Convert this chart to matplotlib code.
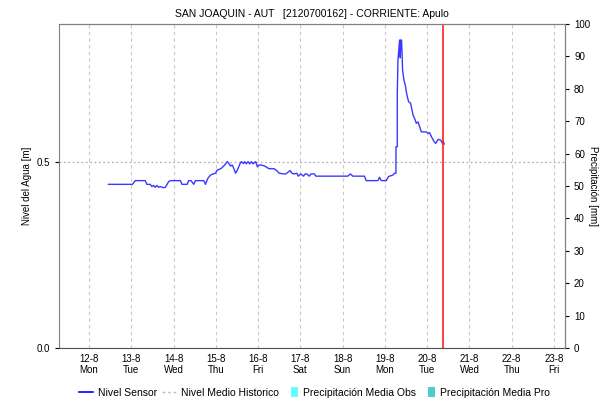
import matplotlib
matplotlib.use("Agg")
import matplotlib.pyplot as plt
import matplotlib.dates as mdates
from matplotlib.lines import Line2D
from matplotlib.patches import Patch, Rectangle
from matplotlib.legend_handler import HandlerPatch
from datetime import datetime, timedelta

plt.rcParams['font.family'] = ['Liberation Sans', 'DejaVu Sans']

# Sensor level: days after 12-8-2024 00:00, level in metres
days = [0.459, 1.029, 1.093, 1.330, 1.370, 1.449, 1.489, 1.528, 1.568, 1.607,
        1.647, 1.686, 1.766, 1.805, 1.884, 1.924, 2.162, 2.201, 2.320, 2.359,
        2.415, 2.478, 2.518, 2.716, 2.755, 2.811, 2.874, 2.937, 2.993, 3.032,
        3.112, 3.151, 3.230, 3.270, 3.310, 3.349, 3.389, 3.428, 3.468, 3.508,
        3.571, 3.603, 3.650, 3.682, 3.721, 3.761, 3.800, 3.840, 3.880, 3.919,
        3.943, 3.983, 4.022, 4.062, 4.141, 4.260, 4.378, 4.442, 4.497, 4.616,
        4.656, 4.759, 4.798, 4.854, 4.917, 4.949, 5.012, 5.075, 5.115, 5.155,
        5.210, 5.250, 5.329, 5.368, 6.121, 6.184, 6.240, 6.516, 6.556, 6.834,
        6.873, 6.912, 7.031, 7.086, 7.190, 7.228, 7.261, 7.262, 7.292, 7.293,
        7.309, 7.347, 7.363, 7.375, 7.394, 7.411, 7.418, 7.451, 7.482, 7.506,
        7.530, 7.561, 7.608, 7.641, 7.665, 7.703, 7.743, 7.784, 7.822, 7.862,
        7.981, 8.021, 8.059, 8.100, 8.164, 8.202, 8.259, 8.321, 8.361, 8.385,
        8.401]
nivel = [0.440, 0.440, 0.450, 0.450, 0.440, 0.440, 0.434, 0.437, 0.432, 0.437,
         0.432, 0.434, 0.431, 0.432, 0.447, 0.450, 0.450, 0.440, 0.440, 0.450,
         0.450, 0.440, 0.450, 0.450, 0.440, 0.456, 0.465, 0.468, 0.470, 0.478,
         0.482, 0.485, 0.495, 0.501, 0.496, 0.489, 0.492, 0.482, 0.470, 0.478,
         0.495, 0.501, 0.496, 0.501, 0.495, 0.501, 0.495, 0.501, 0.495, 0.499,
         0.501, 0.487, 0.492, 0.492, 0.490, 0.482, 0.482, 0.477, 0.470, 0.468,
         0.468, 0.477, 0.470, 0.468, 0.470, 0.462, 0.468, 0.462, 0.468, 0.468,
         0.462, 0.468, 0.468, 0.462, 0.462, 0.468, 0.462, 0.462, 0.450, 0.450,
         0.459, 0.450, 0.450, 0.461, 0.465, 0.470, 0.470, 0.541, 0.541, 0.685,
         0.774, 0.828, 0.780, 0.828, 0.828, 0.774, 0.747, 0.720, 0.707, 0.689,
         0.676, 0.662, 0.658, 0.640, 0.626, 0.617, 0.604, 0.608, 0.595, 0.581,
         0.581, 0.577, 0.579, 0.568, 0.555, 0.550, 0.561, 0.559, 0.550, 0.555,
         0.548]

base = datetime(2024, 8, 12)
times = [base + timedelta(days=d) for d in days]
now_day = 8.385
tick_days = list(range(12))
title = "SAN JOAQUIN - AUT   [2120700162] - CORRIENTE: Apulo"

fig = plt.figure(figsize=(6.1, 4.05), dpi=100)
ax = fig.add_axes([0.0967, 0.1407, 0.8295, 0.80])
ax2 = ax.twinx()

ax.plot(times, nivel, color='#3a3aff', lw=1.0, zorder=3)
ax.axvline(base + timedelta(days=now_day), color='#ff2020', lw=1.2, zorder=4)

ax.set_xlim(base - timedelta(days=0.71), base + timedelta(days=11.26))
ax.set_ylim(0, 0.871)
ax.set_yticks([0.0, 0.5])
ax.set_yticklabels(['0.0', '0.5'])
ax2.set_ylim(0, 100)
ax2.set_yticks(range(0, 101, 10))

ax.set_xticks([base + timedelta(days=d) for d in tick_days])
ax.xaxis.set_major_formatter(
    plt.FuncFormatter(lambda v, p: mdates.num2date(v).strftime('%-d-%-m\n%a')))

ax.grid(axis='x', color='#c8c8c8', ls=(0, (3, 3)), lw=0.8)
for yv in [0.0, 0.5]:
    ax.axhline(yv, color='#b0b0b0', ls=(0, (1.5, 2)), lw=0.9, zorder=1)

for a in (ax, ax2):
    for s in a.spines.values():
        s.set_color('#808080')
    a.tick_params(colors='#000000', labelsize=7, length=3, width=0.8)
ax.spines['bottom'].set_color('#505050')
ax.tick_params(axis='x', length=0, pad=4)
ax2.spines['left'].set_visible(False)
ax2.spines['bottom'].set_visible(False)

ax.set_ylabel('Nivel del Agua [m]', fontsize=7, labelpad=3)
ax2.set_ylabel('Precipitación [mm]', fontsize=7, rotation=270, labelpad=6)
ax.set_title(title, fontsize=7.5, pad=5)


def narrow_box(legend, orig_handle, xdescent, ydescent, width, height, fontsize):
    w = height * 1.0
    return Rectangle((-xdescent + width - w, -ydescent - 1), w, height + 2)


handles = [
    Line2D([], [], color='#0000ff', lw=1.2),
    Line2D([], [], color='#c0c0c0', lw=1.0, ls=(0, (2, 2))),
    Patch(facecolor='#66ffff', edgecolor='none'),
    Patch(facecolor='#4ccccc', edgecolor='none'),
]
labels = ['Nivel Sensor', 'Nivel Medio Historico',
          'Precipitación Media Obs', 'Precipitación Media Pro']
fig.legend(handles, labels, loc='center', bbox_to_anchor=(0.515, 0.03), ncol=4,
           frameon=False, fontsize=7.5, handlelength=1.4, handletextpad=0.4,
           columnspacing=0.5,
           handler_map={Patch: HandlerPatch(patch_func=narrow_box)})

fig.savefig('out.png', dpi=100)
